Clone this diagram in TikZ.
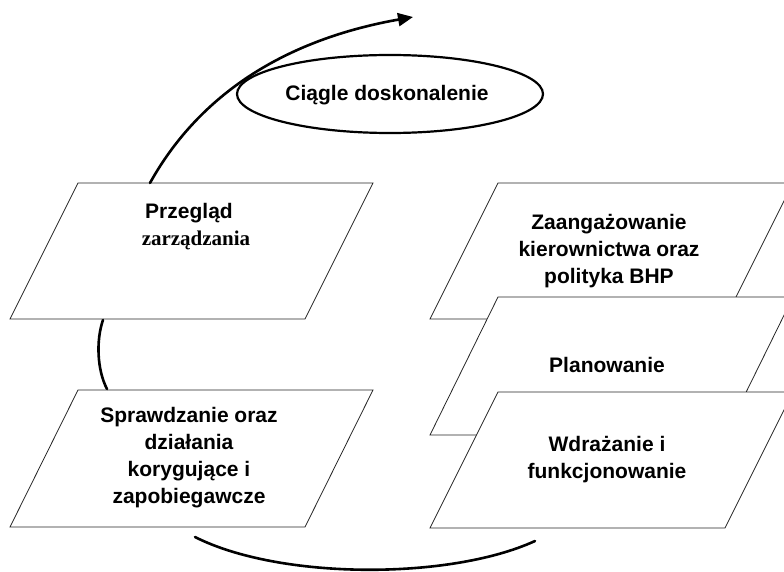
\documentclass[tikz,border=0pt]{standalone}
\usepackage{fontspec}
\setmainfont{Liberation Sans}
\newfontfamily\serifbold{Liberation Serif}
\usetikzlibrary{shapes.geometric,arrows.meta}
\begin{document}
\begin{tikzpicture}[x=1pt,y=-1pt,
  pgbox/.style={draw=black!85,line width=0.8pt,fill=white},
  lbl/.style={align=center,inner sep=0pt,font=\fontsize{21}{27}\selectfont\bfseries},
  arc/.style={line width=2.6pt,line cap=round},
  oval/.style={ellipse,draw,line width=2.2pt,minimum width=306pt,minimum height=78pt,inner sep=0pt}]
\useasboundingbox (0,0) rectangle (784,572);
% left parallelograms
\draw[pgbox] (78,183) -- ++(295,0) -- ++(-68,136) -- ++(-295,0) -- cycle;
\draw[pgbox] (78,390) -- ++(295,0) -- ++(-68,137) -- ++(-295,0) -- cycle;
% right stack
\draw[pgbox] (498,183) -- ++(295,0) -- ++(-68,136) -- ++(-295,0) -- cycle;
\draw[pgbox] (498,297) -- ++(295,0) -- ++(-68,138) -- ++(-295,0) -- cycle;
\draw[pgbox] (498,392) -- ++(295,0) -- ++(-68,136) -- ++(-295,0) -- cycle;
% texts
\node[lbl] (prz) at (189,213) {Przegląd};
\node[lbl,font=\fontsize{21}{27}\selectfont\serifbold\bfseries] (zar) at (196,240) {zarządzania};
\node[lbl] (spr) at (189,458) {Sprawdzanie oraz\\działania\\korygujące i\\zapobiegawcze};
\node[lbl] (zaa) at (609,251) {Zaangażowanie\\kierownictwa oraz\\polityka BHP};
\node[lbl] (pla) at (607,365) {Planowanie};
\node[lbl] (wdr) at (607,460) {Wdrażanie i\\funkcjonowanie};
\node[oval,font=\fontsize{21}{27}\selectfont\bfseries] (cd) at (390,94) {};
\node[lbl] (cdt) at (387,95) {Ciągle doskonalenie};
% connectors
\coordinate (a1) at (150,183);
\coordinate (a2) at (413,17);
\draw[arc,-{Triangle[length=15pt,width=13pt]}] (a1) .. controls (185,120) and (255,45) .. (a2);
\coordinate (b1) at (103,320);
\coordinate (b2) at (107,389);
\draw[arc] (b1) .. controls (96,340) and (97,370) .. (b2);
\coordinate (c1) at (195,537);
\coordinate (c2) at (535,541);
\draw[arc] (c1) .. controls (280,580) and (450,580) .. (c2);
\end{tikzpicture}
\end{document}
